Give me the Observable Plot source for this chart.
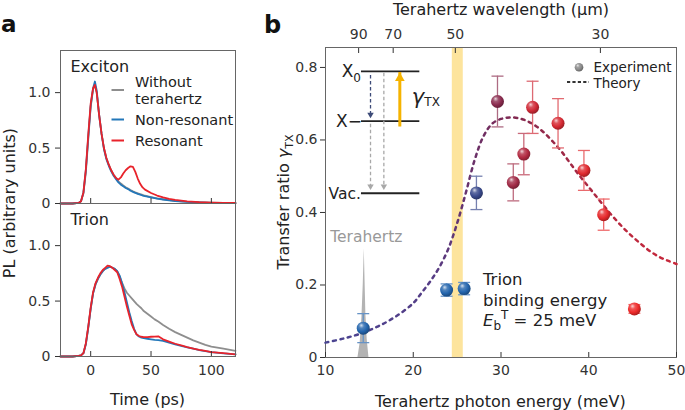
<!DOCTYPE html>
<html><head><meta charset="utf-8">
<script src="https://cdn.jsdelivr.net/npm/d3@7"></script>
<script src="https://cdn.jsdelivr.net/npm/@observablehq/plot@0.6"></script>
<style>
body{margin:0;background:#fff;}
#fig{position:relative;width:685px;height:410px;font-family:"DejaVu Sans",sans-serif;overflow:hidden;}
#fig svg{position:absolute;top:0;}
</style></head><body><div id="fig"></div>
<script>
const FONT = '"DejaVu Sans", sans-serif';

// ---------- Panel a data ----------
const panels = ["Exciton", "Trion"];
const seriesNames = ["Without terahertz", "Non-resonant", "Resonant"];
const seriesColors = ["#8e8e8e", "#2377b9", "#e8232b"];

const excitonT = [-25,-15,-10,-8,-6,-4,-2,0,2,3.5,5,7,9,11,13,15,17,19,21,23,25,27,29,31,33,35,37,39,41,43,45,50,55,60,65,70,80,90,100,110,120];
const excitonGray = [0,0,0.005,0.02,0.09,0.28,0.58,0.87,1.03,1.07,1.0,0.8,0.63,0.5,0.41,0.35,0.3,0.26,0.23,0.2,0.18,0.162,0.147,0.135,0.122,0.11,0.1,0.092,0.084,0.077,0.07,0.058,0.047,0.038,0.03,0.024,0.015,0.01,0.007,0.005,0.004];
const excitonBlue = [0,0,0.005,0.02,0.1,0.3,0.6,0.88,1.04,1.1,1.02,0.8,0.63,0.49,0.4,0.34,0.29,0.25,0.22,0.19,0.17,0.155,0.14,0.13,0.115,0.105,0.095,0.087,0.08,0.072,0.066,0.055,0.045,0.036,0.028,0.022,0.014,0.009,0.006,0.004,0.003];
const excitonRed = [0,0,0.005,0.02,0.1,0.31,0.62,0.9,1.04,1.07,1.0,0.8,0.63,0.5,0.41,0.35,0.3,0.26,0.23,0.215,0.235,0.27,0.3,0.32,0.335,0.33,0.285,0.225,0.178,0.145,0.125,0.095,0.072,0.055,0.042,0.033,0.02,0.012,0.008,0.006,0.005];

const trionT = [-25,-15,-10,-8,-6,-4,-2,0,2,4,6,8,10,12,14,16,18,20,22,24,26,28,30,32,34,36,38,40,42,44,47,50,53,56,60,65,70,75,80,85,90,95,100,110,120];
const trionGray = [0,0,0.005,0.01,0.03,0.11,0.26,0.43,0.57,0.65,0.7,0.74,0.77,0.79,0.8,0.81,0.8,0.79,0.77,0.72,0.665,0.615,0.575,0.55,0.525,0.5,0.475,0.455,0.435,0.41,0.385,0.36,0.335,0.315,0.285,0.25,0.22,0.195,0.17,0.145,0.125,0.105,0.09,0.07,0.05];
const trionBlue = [0,0,0.005,0.01,0.03,0.11,0.26,0.43,0.57,0.65,0.7,0.74,0.77,0.79,0.8,0.81,0.8,0.79,0.77,0.73,0.66,0.58,0.49,0.4,0.32,0.25,0.2,0.18,0.17,0.165,0.16,0.155,0.15,0.148,0.14,0.125,0.11,0.095,0.082,0.07,0.058,0.048,0.04,0.028,0.02];
const trionRed = [0,0,0.005,0.01,0.03,0.12,0.27,0.44,0.58,0.66,0.71,0.75,0.78,0.8,0.82,0.815,0.8,0.78,0.76,0.7,0.63,0.54,0.45,0.37,0.29,0.24,0.2,0.185,0.178,0.175,0.175,0.178,0.18,0.182,0.155,0.135,0.115,0.1,0.085,0.072,0.06,0.05,0.04,0.03,0.02];

const timeTicks = [0, 50, 100];
const plTicks = [0, 0.5, 1];

// ---------- Panel b data ----------
const HC = 1239.84; // meV·µm
const wavelengthTicks = [90, 70, 50, 30];
const energyTicks = [10, 20, 30, 40, 50];
const ratioTicks = [0, 0.2, 0.4, 0.6, 0.8];

const expE   = [14.3, 23.8, 25.8, 27.2, 29.6, 31.4, 32.6, 33.6, 36.5, 39.45, 41.7, 45.2];
const expR   = [0.081, 0.186, 0.19, 0.454, 0.706, 0.483, 0.561, 0.690, 0.646, 0.516, 0.394, 0.134];
const expErr = [0.04, 0.017, 0.017, 0.046, 0.07, 0.051, 0.057, 0.072, 0.068, 0.055, 0.043, 0.012];
const expColor = ["#2465ad","#2465ad","#2465ad","#3a4a8c","#8a2b4e","#a12c47","#b22a41","#cf2a37","#d62a33","#e02a2f","#e6292c","#ee2a2a"];

const theoryE = [10,12,14,16,18,20,21,22,23,24,25,26,27,28,29,30,31,32,33,34,35,36,37,38,39,40,41,42,43,44,45,46,47,48,49,50];
const theoryR = [0.041,0.052,0.066,0.086,0.113,0.15,0.18,0.212,0.25,0.3,0.37,0.455,0.545,0.61,0.645,0.658,0.662,0.66,0.652,0.638,0.618,0.593,0.565,0.532,0.5,0.47,0.44,0.41,0.382,0.356,0.333,0.312,0.293,0.278,0.267,0.258];

const thzE = [13.7, 13.95, 14.15, 14.3, 14.42, 14.5, 14.6, 14.75, 14.95];
const thzS = [0, 0.04, 0.11, 0.2, 0.3, 0.22, 0.12, 0.05, 0];

const bindingBand = [24.45, 25.7]; // meV

// energy-level schematic (inset)
const levelNames = ["X0", "X−", "Vac."];
const levelR = [0.789, 0.652, 0.453];
const levelSpan = [14.1, 20.75];
const transE    = [15.13, 15.13, 16.65, 18.47];
const transFrom = [0.778, 0.643, 0.784, 0.655];
const transTo   = [0.66, 0.462, 0.462, 0.786];
const transKind = ["relax", "decay", "decay", "thz"];

// ---------- helpers ----------
const fmtTick = d => d === 0 ? "0" : d.toFixed(1);
const capSymbol = {draw(ctx, size) { const w = Math.sqrt(size / Math.PI); ctx.moveTo(-w, 0); ctx.lineTo(w, 0); }};
const lighten = (c, t) => d3.interpolateRgb(c, "#ffffff")(t);
const darken = (c, t) => d3.interpolateRgb(c, "#000000")(t);
const transColor = k => k === "relax" ? "#3d4b78" : k === "thz" ? "#f5b300" : "#a8a8a8";

const fig = document.getElementById("fig");

// ---------- Panel a ----------
const rowsA = [];
seriesNames.forEach((s, k) => {
  const ex = [excitonGray, excitonBlue, excitonRed][k];
  const tr = [trionGray, trionBlue, trionRed][k];
  excitonT.forEach((t, i) => rowsA.push({panel: "Exciton", series: s, t, v: ex[i]}));
  trionT.forEach((t, i) => rowsA.push({panel: "Trion", series: s, t, v: tr[i]}));
});

const plotA = Plot.plot({
  width: 260, height: 410,
  marginLeft: 60, marginRight: 25, marginTop: 50, marginBottom: 54,
  style: {fontFamily: FONT, fontSize: "14px", color: "#333", background: "transparent", overflow: "visible"},
  x: {domain: [-25, 120]},
  y: {domain: [0, 1.38]},
  fy: {domain: panels, padding: 0, axis: null, label: null},
  color: {domain: seriesNames, range: seriesColors},
  marks: [
    Plot.lineY(rowsA, {x: "t", y: "v", fy: "panel", z: "series", stroke: "series", strokeWidth: 1.8}),
    Plot.frame({stroke: "#666"}),
    Plot.axisY({ticks: plTicks, tickFormat: fmtTick, tickSize: 5, tickPadding: 5, label: null}),
    Plot.axisX({ticks: timeTicks, tickSize: -5, tickFormat: () => "", facetAnchor: null, label: null}),
    Plot.axisX({ticks: timeTicks, tickSize: 0, tickPadding: 9, label: null}),
    Plot.text(panels, {fy: d => d, text: d => d, frameAnchor: "top-left", dx: 10, dy: 10, lineAnchor: "top", fontSize: 16, fill: "#222"})
  ]
});
plotA.style.left = "0px";
fig.appendChild(plotA);

// ---------- Panel b ----------
const expRows = expE.map((e, i) => ({e, r: expR[i], err: expErr[i], c: expColor[i], i}));
const levelRows = levelNames.map((n, i) => ({n, r: levelR[i]}));
const transRows = transE.map((e, i) => ({e, from: transFrom[i], to: transTo[i], kind: transKind[i]}));
const dashedRows = transRows.filter(d => d.kind !== "thz");
const thzRows = transRows.filter(d => d.kind === "thz");

const plotB = Plot.plot({
  width: 425, height: 410,
  marginLeft: 65, marginRight: 9, marginTop: 47, marginBottom: 53,
  style: {fontFamily: FONT, fontSize: "14px", color: "#333", background: "transparent", overflow: "visible"},
  x: {domain: [10, 50]},
  y: {domain: [0, 0.855]},
  color: {type: "identity"},
  marks: [
    Plot.rect([bindingBand], {x1: d => d[0], x2: d => d[1], fill: "#fde49d"}),
    Plot.areaY(thzE, {x: d => d, y: (d, i) => thzS[i], fill: "#b3b3b3"}),
    Plot.frame({stroke: "#666"}),
    Plot.axisY({ticks: ratioTicks, tickFormat: fmtTick, tickSize: 5, tickPadding: 3, label: null}),
    Plot.axisX({ticks: energyTicks, tickSize: -5, tickPadding: 13, label: null}),
    Plot.axisX({anchor: "top", ticks: wavelengthTicks.map(l => HC / l), tickFormat: e => String(Math.round(HC / e)), tickSize: -5, tickPadding: 14, label: null}),
    Plot.line(theoryE, {x: d => d, y: (d, i) => theoryR[i], stroke: "url(#theoryGrad)", strokeWidth: 2.5, strokeDasharray: "3,4.6", curve: "catmull-rom"}),
    Plot.ruleX(expRows, {x: "e", y1: d => d.r - d.err, y2: d => d.r + d.err, stroke: d => lighten(d.c, 0.3), strokeWidth: 1.3}),
    Plot.dot(expRows, {x: "e", y: d => d.r + d.err, symbol: capSymbol, r: 6, fill: "none", stroke: d => lighten(d.c, 0.3), strokeWidth: 1.3}),
    Plot.dot(expRows, {x: "e", y: d => d.r - d.err, symbol: capSymbol, r: 6, fill: "none", stroke: d => lighten(d.c, 0.3), strokeWidth: 1.3}),
    Plot.dot(expRows, {x: "e", y: "r", r: 6.5, fill: d => `url(#sph${d.i})`, stroke: "none"}),
    // inset schematic
    Plot.ruleY(levelRows, {y: "r", x1: () => levelSpan[0], x2: () => levelSpan[1], stroke: "#222", strokeWidth: 1.8}),
    Plot.ruleX(dashedRows, {x: "e", y1: "from", y2: "to", stroke: d => transColor(d.kind), strokeWidth: 1.3, strokeDasharray: "3.5,2.5", insetBottom: 4}),
    Plot.dot(dashedRows, {x: "e", y: "to", symbol: "triangle", rotate: 180, r: 2.4, dy: -3.6, fill: d => transColor(d.kind), stroke: "none"}),
    Plot.ruleX(thzRows, {x: "e", y1: "from", y2: "to", stroke: d => transColor(d.kind), strokeWidth: 3, insetTop: 7}),
    Plot.dot(thzRows, {x: "e", y: "to", symbol: "triangle", r: 3.6, dy: 5.6, fill: d => transColor(d.kind), stroke: "none"}),
    Plot.text(["Terahertz"], {x: () => 14.65, y: () => 0.333, text: d => d, fill: "#999", fontSize: 15.5})
  ]
});
plotB.style.left = "260px";
fig.appendChild(plotB);

// gradients for theory curve and spheres
const defsB = d3.select(plotB).insert("defs", ":first-child");
const tg = defsB.append("linearGradient").attr("id", "theoryGrad").attr("x1", 0).attr("x2", 1).attr("y1", 0).attr("y2", 0);
[[0, "#4a4592"], [0.3, "#553d86"], [0.45, "#6f2e62"], [0.55, "#85294f"], [0.7, "#a32945"], [0.85, "#bb283e"], [1, "#c8283b"]]
  .forEach(([o, c]) => tg.append("stop").attr("offset", o).attr("stop-color", c));
function sphere(defs, id, c) {
  const g = defs.append("radialGradient").attr("id", id).attr("cx", 0.4).attr("cy", 0.38).attr("r", 0.65).attr("fx", 0.35).attr("fy", 0.28);
  [[0, lighten(c, 0.8)], [0.3, lighten(c, 0.2)], [0.65, c], [1, darken(c, 0.3)]]
    .forEach(([o, col]) => g.append("stop").attr("offset", o).attr("stop-color", col));
}
expColor.forEach((c, i) => sphere(defsB, `sph${i}`, c));

// ---------- Overlay text / legends ----------
const sx = v => 260 + plotB.scale("x").apply(v);
const sy = v => plotB.scale("y").apply(v);

const ov = d3.select(fig).append("svg").attr("width", 685).attr("height", 410)
  .style("left", "0px").style("pointer-events", "none")
  .attr("font-family", FONT).attr("fill", "#222");
const defsO = ov.append("defs");
sphere(defsO, "sphLegend", "#8a8a8a");

function rich(x, y, parts, opts = {}) {
  const t = ov.append("text").attr("font-size", opts.size || 16).attr("fill", opts.fill || "#222")
    .attr("text-anchor", opts.anchor || "start").attr("font-weight", opts.weight || null);
  if (opts.rotate) t.attr("transform", `translate(${x},${y}) rotate(${opts.rotate})`);
  else t.attr("x", x).attr("y", y);
  let shift = 0;
  parts.forEach(p => {
    const s = t.append("tspan").text(p.t);
    const target = p.dy || 0;
    if (target !== shift) { s.attr("dy", target - shift); shift = target; }
    if (p.size) s.attr("font-size", p.size);
    if (p.italic) s.attr("font-style", "italic");
  });
  return t;
}

// panel letters
rich(1, 32, [{t: "a"}], {size: 23, weight: "bold", fill: "#111"});
rich(264, 33, [{t: "b"}], {size: 24, weight: "bold", fill: "#111"});

// panel a titles
rich(15, 203, [{t: "PL (arbitrary units)"}], {anchor: "middle", rotate: -90});
rich(147.5, 405, [{t: "Time (ps)"}], {anchor: "middle"});

// panel a legend
const legA = [
  {s: 0, y: 90, lines: [["Without", 87], ["terahertz", 104]]},
  {s: 1, y: 119.5, lines: [["Non-resonant", 124.5]]},
  {s: 2, y: 140.5, lines: [["Resonant", 145.5]]}
];
legA.forEach(L => {
  ov.append("line").attr("x1", 111.5).attr("x2", 124).attr("y1", L.y).attr("y2", L.y)
    .attr("stroke", seriesColors[L.s]).attr("stroke-width", 2);
  L.lines.forEach(([txt, yy]) => rich(135, yy, [{t: txt}], {size: 14.5}));
});

// panel b titles
rich(289, 202, [{t: "Transfer ratio "}, {t: "γ", italic: true}, {t: "TX", size: 11, dy: 4}], {anchor: "middle", rotate: -90});
rich(500.3, 406.5, [{t: "Terahertz photon energy (meV)"}], {anchor: "middle"});
rich(501, 15, [{t: "Terahertz wavelength (μm)"}], {anchor: "middle"});

// panel b legend
ov.append("circle").attr("cx", 579).attr("cy", 67.3).attr("r", 4.3).attr("fill", "url(#sphLegend)");
rich(593.5, 72.3, [{t: "Experiment"}], {size: 13.5});
ov.append("line").attr("x1", 567).attr("x2", 589).attr("y1", 82).attr("y2", 82)
  .attr("stroke", "#333").attr("stroke-width", 2).attr("stroke-dasharray", "3.2,2.2");
rich(593.5, 88, [{t: "Theory"}], {size: 13.5});

// inset labels
const lx = sx(levelSpan[0]);
rich(lx, sy(levelR[0]) + 6, [{t: "X"}, {t: "0", size: 12, dy: 5}], {size: 17, anchor: "end"});
rich(lx + 1, sy(levelR[1]) + 6, [{t: "X−"}], {size: 17, anchor: "end"});
rich(lx, sy(levelR[2]) + 6, [{t: "Vac."}], {size: 15.5, anchor: "end"});
rich(sx(19.9), sy(0.714) + 6, [{t: "γ", italic: true, size: 21}, {t: "TX", size: 12, dy: 2}], {size: 16});

// trion note
const nx = sx(28), ny = sy(0.198);
rich(nx, ny, [{t: "Trion"}], {size: 16.5});
rich(nx, ny + 20.5, [{t: "binding energy"}], {size: 16.5});
rich(nx, ny + 41, [{t: "E", italic: true}, {t: "b", size: 12, dy: 4}, {t: "T", size: 12, dy: -7}, {t: " = 25 meV", dy: 0}], {size: 16.5});
</script></body></html>
